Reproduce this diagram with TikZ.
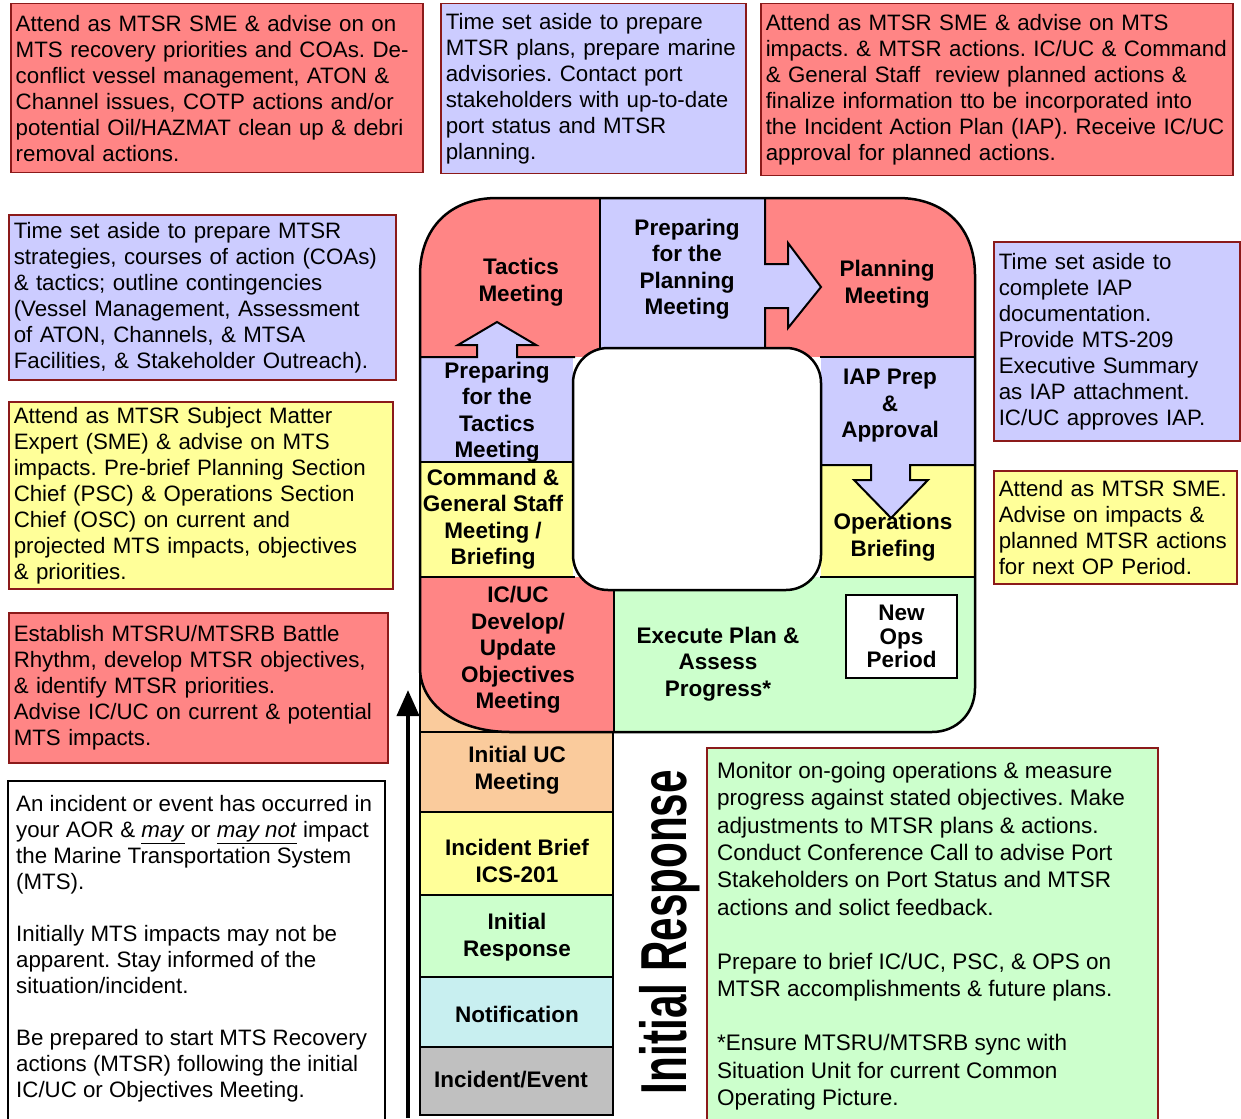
\documentclass[tikz,border=0pt]{standalone}
\usepackage{fontspec}
\setmainfont{Liberation Sans}
\usepackage{xcolor}
\usepackage{tikz}
\usetikzlibrary{positioning,arrows.meta}

\definecolor{rojo}{HTML}{FF8585}
\definecolor{azul}{HTML}{CCCCFF}
\definecolor{amarillo}{HTML}{FFFF99}
\definecolor{verde}{HTML}{CCFFCC}
\definecolor{naranja}{HTML}{FACB9C}
\definecolor{celeste}{HTML}{C8EFF0}
\definecolor{gris}{HTML}{C0C0C0}
\definecolor{borde}{HTML}{8B1A1A}

\frenchspacing
\hyphenpenalty=10000
\exhyphenpenalty=10000

\newcommand{\fuentenota}{\fontsize{22.3}{26}\selectfont}
\newcommand{\fuenteverde}{\fontsize{22.5}{27.3}\selectfont}
\newcommand{\fuenteetiq}{\bfseries\fontsize{22.5}{26.5}\selectfont}
\newcommand{\fuentenueva}{\bfseries\fontsize{22.5}{23.5}\selectfont}
\newcommand{\fuentegrande}{\bfseries\fontsize{65}{70}\selectfont}

% Contorno del ciclo (coordenadas en pixeles)
\newcommand{\contorno}{(420,275) .. controls (420,228) and (450,198) .. (497,198) -- (898,198) .. controls (945,198) and (975,228) .. (975,275) -- (975,688) .. controls (975,713) and (957,732) .. (932,732) -- (510,732) .. controls (458,732) and (420,705) .. (420,668) -- cycle}

\begin{document}
\frenchspacing
\begin{tikzpicture}[x=1pt, y=-1pt,
    nota/.style={draw=borde, line width=1.5pt, anchor=north west, align=left,
      inner xsep=5pt, inner ysep=0pt, font=\fuentenota},
    etiq/.style={align=center, inner sep=0pt, font=\fuenteetiq},
    linea/.style={line width=2pt}]
    \useasboundingbox (0,0) rectangle (1241,1118);
    \clip (0,0) rectangle (1241,1118);

    % Notas superiores
    \node[nota, fill=rojo, text width=402pt, minimum height=169pt] (notaTactica) at (10,3)
        {Attend as MTSR SME \& advise on on\\ MTS recovery priorities and COAs. De-\\ conflict vessel management, ATON \&\\ Channel issues, COTP actions and/or\\ \mbox{potential Oil/HAZMAT clean up \& debri}\\ removal actions.};
    \node[nota, fill=azul, text width=295pt, minimum height=170pt] (notaPrepPlan) at (440,3)
        {Time set aside to prepare\\ \mbox{MTSR plans, prepare marine}\\ advisories. Contact port\\ \mbox{stakeholders with up-to-date}\\ port status and MTSR\\ planning.};
    \node[nota, fill=rojo, text width=462pt, minimum height=172pt] (notaPlan) at (760,3)
        {Attend as MTSR SME \& advise on MTS\\ \mbox{impacts. \& MTSR actions. IC/UC \& Command}\\ \mbox{\& General Staff\ \ review planned actions \&}\\ \mbox{finalize information tto be incorporated into}\\ \mbox{the Incident Action Plan (IAP). Receive IC/UC}\\ approval for planned actions.};

    % Notas de la izquierda
    \node[nota, fill=azul, text width=377pt, minimum height=165pt] (notaPrepTac) at (8,214)
        {Time set aside to prepare MTSR\\ \mbox{strategies, courses of action (COAs)}\\ \& tactics; outline contingencies\\ (Vessel Management, Assessment\\ of ATON, Channels, \& MTSA\\ \mbox{Facilities, \& Stakeholder Outreach).}};
    \node[nota, fill=amarillo, text width=374pt, minimum height=187pt] (notaCGS) at (8,401)
        {Attend as MTSR Subject Matter\\ Expert (SME) \& advise on MTS\\ \mbox{impacts. Pre-brief Planning Section}\\ Chief (PSC) \& Operations Section\\ Chief (OSC) on current and\\ projected MTS impacts, objectives\\ \& priorities.};
    \node[nota, fill=rojo, text width=369pt, minimum height=150pt] (notaICUC) at (8,612)
        {Establish MTSRU/MTSRB Battle\\ Rhythm, develop MTSR objectives,\\ \& identify MTSR priorities.\\ \mbox{Advise IC/UC on current \& potential}\\ MTS impacts.};
    \draw[fill=white, line width=2pt] (8,781) rectangle (385,1140);
    \node[anchor=north west, align=left, inner sep=0pt, font=\fuentenota] (notaIncidente) at (16,795)
        {An incident or event has occurred in\\ your AOR \& \underline{\textit{may}} or \underline{\textit{may not}} impact\\ the Marine Transportation System\\ (MTS).\\[26pt] Initially MTS impacts may not be\\ apparent. Stay informed of the\\ situation/incident.\\[26pt] Be prepared to start MTS Recovery\\ actions (MTSR) following the initial\\ IC/UC or Objectives Meeting.};

    % Notas de la derecha
    \node[nota, fill=azul, text width=236pt, minimum height=199pt] (notaIAP) at (993,241)
        {Time set aside to\\ complete IAP\\ documentation.\\ Provide MTS-209\\ Executive Summary\\ as IAP attachment.\\ IC/UC approves IAP.};
    \node[nota, fill=amarillo, text width=233pt, minimum height=113pt] (notaOps) at (993,470)
        {Attend as MTSR SME.\\ Advise on impacts \&\\ \mbox{planned MTSR actions}\\ for next OP Period.};
    \draw[fill=verde, draw=borde, line width=1.5pt] (707,748) rectangle (1158,1140);
    \node[anchor=north west, align=left, inner sep=0pt, font=\fuenteverde] (notaEjecutar) at (717,762)
        {Monitor on-going operations \& measure\\ progress against stated objectives. Make\\ adjustments to MTSR plans \& actions.\\ Conduct Conference Call to advise Port\\ Stakeholders on Port Status and MTSR\\ actions and solict feedback.\\[27pt] Prepare to brief IC/UC, PSC, \& OPS on\\ MTSR accomplishments \& future plans.\\[27pt] *Ensure MTSRU/MTSRB sync with\\ Situation Unit for current Common\\ Operating Picture.};

    % Pila de respuesta inicial
    \fill[naranja] (420,650) rectangle (613,732);
    \draw[linea] (420,650) -- (420,732);
    \foreach \nombre/\ya/\yb/\xt/\yt/\col/\txt in {
        iniUC/732/812/517/770/naranja/{Initial UC\\Meeting},
        brief/812/895/517/861/amarillo/{Incident Brief\\ICS-201},
        respuesta/895/977/517/937/verde/{Initial\\Response},
        notif/977/1047/517/1014/celeste/{Notification},
        evento/1047/1115/511/1080/gris/{Incident/Event}} {
        \draw[linea, fill=\col] (420,\ya) rectangle (613,\yb);
        \node[etiq] (\nombre) at (\xt,\yt) {\txt};
    }

    % Ciclo operativo
    \begin{scope}
        \clip \contorno;
        \fill[rojo] (420,198) rectangle (600,357);
        \fill[azul] (600,198) rectangle (765,357);
        \fill[rojo] (765,198) rectangle (975,357);
        \fill[azul] (420,357) rectangle (573,462);
        \fill[amarillo] (420,462) rectangle (573,577);
        \fill[azul] (821,357) rectangle (975,465);
        \fill[amarillo] (821,465) rectangle (975,577);
        \fill[rojo] (420,577) rectangle (614,732);
        \fill[verde] (614,577) rectangle (975,732);
    \end{scope}

    % Flechas entre etapas
    \fill[azul] (477,362) -- (477,345) -- (458,345) -- (497,322) -- (536,345) -- (517,345) -- (517,362) -- cycle;
    \fill[azul] (760,264) -- (788,264) -- (788,243) -- (821,287) -- (788,328) -- (788,308) -- (760,308) -- cycle;
    \fill[azul] (871,460) -- (871,480) -- (854,480) -- (891,518) -- (928,480) -- (910,480) -- (910,460) -- cycle;

    % Divisiones
    \draw[linea] (600,198) -- (600,350);
    \draw[linea] (765,198) -- (765,264) -- (788,264) -- (788,243) -- (821,287) -- (788,328) -- (788,308) -- (765,308) -- (765,350);
    \draw[linea] (420,357) -- (477,357) -- (477,345) -- (458,345) -- (497,322) -- (536,345) -- (517,345) -- (517,357) -- (575,357);
    \draw[linea] (820,357) -- (975,357);
    \draw[linea] (420,462) -- (575,462);
    \draw[linea] (820,465) -- (871,465) -- (871,480) -- (854,480) -- (891,518) -- (928,480) -- (910,480) -- (910,465) -- (975,465);
    \draw[linea] (420,577) -- (575,577) (820,577) -- (975,577);
    \draw[linea] (614,588) -- (614,732);
    \draw[line width=2.5pt] \contorno;

    \node[draw, fill=white, line width=2.5pt, rounded corners=35pt, minimum width=248pt, minimum height=242pt] (centro) at (697,469) {};

    % Etiquetas del ciclo
    \node[etiq] (tactica) at (521,282) {Tactics\\Meeting};
    \node[etiq] (prepPlan) at (687,269) {Preparing\\for the\\Planning\\Meeting};
    \node[etiq] (plan) at (887,284) {Planning\\Meeting};
    \node[etiq] (prepTac) at (497,412) {Preparing\\for the\\Tactics\\Meeting};
    \node[etiq] (cgs) at (493,519) {Command \&\\General Staff\\Meeting /\\Briefing};
    \node[etiq] (iap) at (890,406) {IAP Prep\\\&\\Approval};
    \node[etiq] (opsBrief) at (893,537) {Operations\\Briefing};
    \node[etiq] (icuc) at (518,650) {IC/UC\\Develop/\\Update\\Objectives\\Meeting};
    \node[etiq] (ejecutar) at (718,664) {Execute Plan \&\\Assess\\Progress*};
    \node[draw, fill=white, line width=2pt, minimum width=111pt, minimum height=83pt,
        align=center, inner sep=0pt, font=\fuentenueva] (nuevoPeriodo) at (901.5,636.5) {New\\Ops\\Period};

    % Flecha de avance y titulo vertical
    \coordinate (pie) at (408,1118);
    \coordinate (punta) at (408,690);
    \draw[line width=4pt, -{Triangle[length=26pt,width=22pt]}] (pie) -- (punta);
    \node[rotate=90, xscale=0.65, font=\fuentegrande, inner sep=0pt] (respInicial) at (670,932) {Initial Response};

\end{tikzpicture}
\end{document}
